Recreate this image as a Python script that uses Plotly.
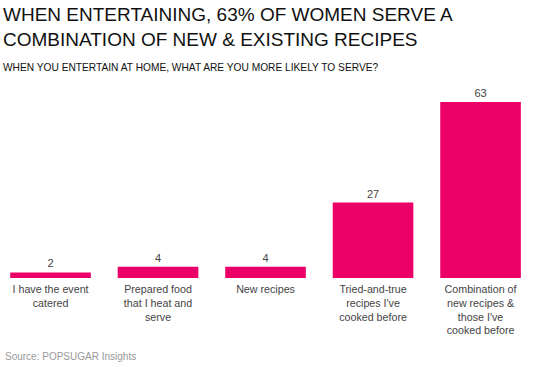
import plotly.graph_objects as go

categories = ["I have the event<br>catered",
              "Prepared food<br>that I heat and<br>serve",
              "New recipes",
              "Tried-and-true<br>recipes I've<br>cooked before",
              "Combination of<br>new recipes &<br>those I've<br>cooked before"]
values = [2, 4, 4, 27, 63]

W, H = 550, 367
T, B = 90, 89
FONT = "Liberation Sans, Arial, sans-serif"
BAR = "#EB0068"


def py(px):
    """pixel y (from top of figure) -> paper fraction"""
    return (H - B - px) / (H - B - T)


fig = go.Figure(go.Bar(
    x=list(range(len(categories))), y=values,
    marker=dict(color=BAR, line=dict(width=0)),
    text=[str(v) for v in values], textposition="outside",
    textfont=dict(family=FONT, size=11, color="#444"),
    cliponaxis=False, hoverinfo="skip",
))

fig.update_layout(
    width=W, height=H,
    margin=dict(l=0, r=20, t=T, b=B),
    paper_bgcolor="white", plot_bgcolor="white",
    bargap=0.25, showlegend=False,
    font=dict(family=FONT),
    xaxis=dict(range=[-0.47, 4.46], tickmode="array",
               tickvals=list(range(len(categories))), ticktext=categories,
               showgrid=False, zeroline=False, showline=False, ticks="",
               ticklabelstandoff=3,
               tickfont=dict(family=FONT, size=10.7, color="#444")),
    yaxis=dict(range=[0, 63 * 188 / 176], visible=False),
    annotations=[
        dict(text="WHEN ENTERTAINING, 63% OF WOMEN SERVE A<br>COMBINATION OF NEW & EXISTING RECIPES",
             xref="paper", yref="paper", x=0, xshift=1, xanchor="left", align="left",
             y=py(2), yanchor="top", showarrow=False,
             font=dict(family=FONT, size=19, color="#111")),
        dict(text="WHEN YOU ENTERTAIN AT HOME, WHAT ARE YOU MORE LIKELY TO SERVE?",
             xref="paper", yref="paper", x=0, xshift=1, xanchor="left",
             y=py(67), yanchor="middle", showarrow=False,
             font=dict(family=FONT, size=10.2, color="#111")),
        dict(text="Source: POPSUGAR Insights",
             xref="paper", yref="paper", x=0, xshift=3, xanchor="left",
             y=py(356), yanchor="middle", showarrow=False,
             font=dict(family=FONT, size=10, color="#999")),
    ],
)

fig.write_html("out.html", config={"displayModeBar": False},
               post_script="document.body.style.margin='0';")
